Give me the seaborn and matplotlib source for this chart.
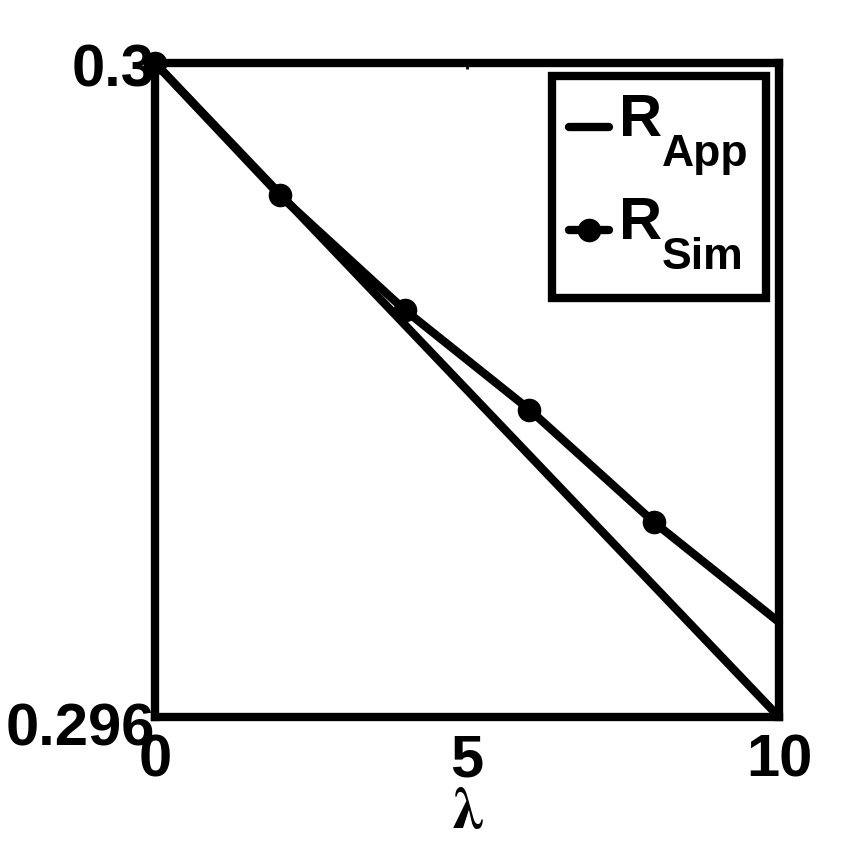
#Line chart: approximate vs simulated R against lambda

# Load Packages=====================================================================================
import matplotlib
matplotlib.use('Agg')
import pandas as pd
import seaborn as sns
import matplotlib.pyplot as plt
from matplotlib.transforms import ScaledTranslation


# Data==============================================================================================
lam = [0, 2, 4, 6, 8, 10]
r_app = [0.3, 0.2992, 0.2984, 0.2976, 0.2968, 0.296]
r_sim = [0.3, 0.29919, 0.29849, 0.29788, 0.29719, 0.29658]
x_ticks = [0, 5, 10]
y_ticks = [0.296, 0.3]
y_tick_labels = ['0.296', '0.3']
leg_main = ['R', 'R']
leg_sub = ['App', 'Sim']


# Style=============================================================================================
sns.set_theme(style='white')
plt.rcParams['font.family'] = ['Liberation Sans', 'DejaVu Sans']
plt.rcParams['font.weight'] = 'bold'
plt.rcParams['text.color'] = 'black'
plt.rcParams['axes.labelcolor'] = 'black'
plt.rcParams['xtick.color'] = 'black'
plt.rcParams['ytick.color'] = 'black'
plt.rcParams['mathtext.fontset'] = 'custom'
plt.rcParams['mathtext.rm'] = 'Liberation Sans:bold'
plt.rcParams['mathtext.bf'] = 'Liberation Sans:bold'
plt.rcParams['mathtext.it'] = 'Liberation Sans:bold'

df = pd.DataFrame({'lam': lam, 'app': r_app, 'sim': r_sim})

fig = plt.figure(figsize=(8.63, 8.5), dpi=100)
ax = fig.add_axes([0.1796, 0.1565, 0.7231, 0.7694])

#approximation: plain line
sns.lineplot(x='lam', y='app', data=df, ax=ax, color='black', linewidth=6,
             label='R_App')
#simulation: line with dots (no dot at the end)
sns.lineplot(x='lam', y='sim', data=df, ax=ax, color='black', linewidth=6,
             marker='o', markersize=17, markevery=[0, 1, 2, 3, 4],
             markeredgewidth=0, clip_on=False, label='R_Sim')

#axes limits and ticks
ax.set_xlim(0, 10)
ax.set_ylim(0.296, 0.3)
ax.set_xticks(x_ticks)
ax.set_yticks(y_ticks)
ax.set_yticklabels(y_tick_labels)
ax.tick_params(axis='both', direction='in', length=4, width=2, labelsize=43,
               top=True, right=False, left=False)
ax.tick_params(axis='x', pad=12)
ax.tick_params(axis='y', pad=0)
for lab in ax.get_xticklabels() + ax.get_yticklabels():
  lab.set_fontweight('bold')
#nudge the y labels down a bit
ylabs = ax.get_yticklabels()
ylabs[0].set_transform(ylabs[0].get_transform() + ScaledTranslation(0, -0.07, fig.dpi_scale_trans))
ylabs[1].set_transform(ylabs[1].get_transform() + ScaledTranslation(0, -0.02, fig.dpi_scale_trans))

for sp in ax.spines.values():
  sp.set_linewidth(6)
  sp.set_color('black')

#labels
ax.set_xlabel(r'$\mathrm{\lambda}$', fontsize=42, math_fontfamily='stix',
              fontweight='normal', labelpad=-2)
ax.set_ylabel('')

#legend: invisible placeholder labels (size the box), real text drawn on top with a deep subscript
handles, _ = ax.get_legend_handles_labels()
leg = ax.legend(handles, [r'$\mathrm{R_{Ai}}$'] * 2, loc='upper right', fontsize=67,
                handlelength=0.43, handletextpad=0.11, borderpad=0.18, labelspacing=0.18,
                borderaxespad=0.14, fancybox=False, framealpha=1, edgecolor='black')
leg.get_frame().set_linewidth(6)
for t, m, s in zip(leg.get_texts(), leg_main, leg_sub):
  t.set_alpha(0)
  r = ax.annotate(m, xy=(0, 1), xycoords=t, xytext=(0, 0), textcoords='offset points',
                  ha='left', va='top', fontsize=43, fontweight='bold', zorder=10)
  ax.annotate(s, xy=(1, 0), xycoords=r, xytext=(0, 10), textcoords='offset points',
              ha='left', va='top', fontsize=32, fontweight='bold', zorder=10)

fig.savefig('out.png', dpi=100)
plt.close()
